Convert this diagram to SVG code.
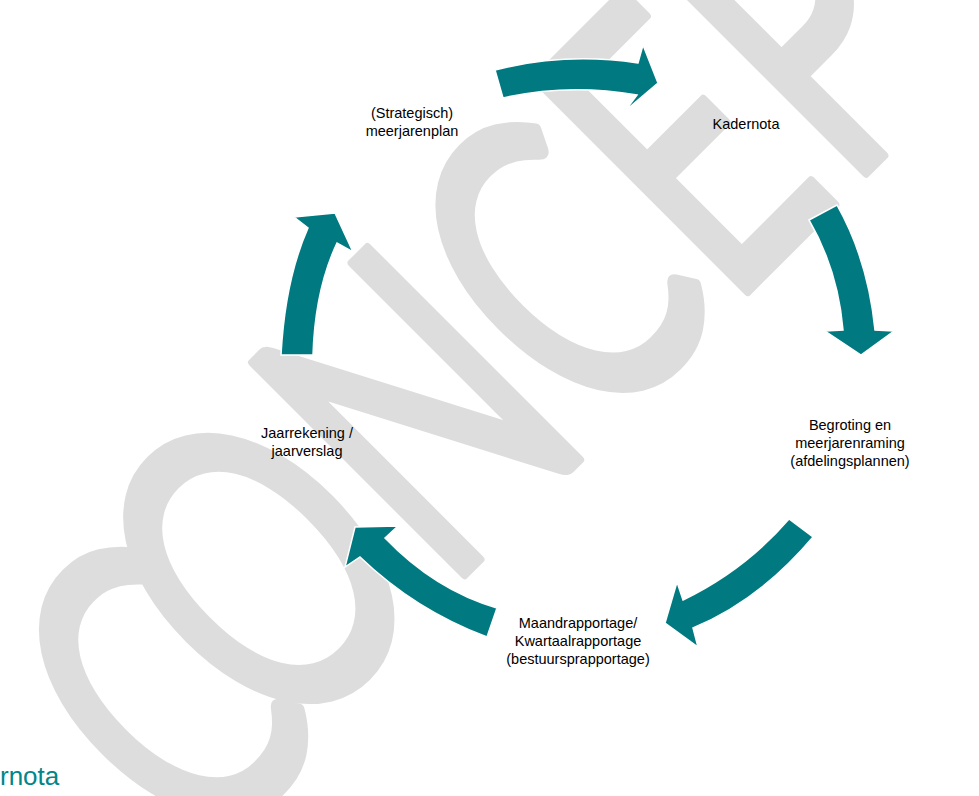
<svg xmlns="http://www.w3.org/2000/svg" width="979" height="796" viewBox="0 0 979 796">
<style>
.wm{font-family:Lato,"Open Sans",sans-serif;font-size:418px;fill:#DDDDDD;stroke:#DDDDDD;stroke-width:9;stroke-linejoin:round;text-anchor:middle}
.arrow{fill:#007A80;stroke:#FFFFFF;stroke-width:1.5;stroke-linejoin:miter}
.lbl{font-family:"Liberation Sans",Arial,sans-serif;font-size:14.5px;fill:#000000;text-anchor:middle}
.hdr{font-family:"Liberation Sans",Arial,sans-serif;font-size:26px;fill:#00868B}
</style>
<rect width="979" height="796" fill="#FFFFFF"/>
<g id="watermark">
<text class="wm" transform="translate(157,882) rotate(-45) scale(0.68,1)"><tspan x="200" y="20">C</tspan><tspan x="432" y="0">O</tspan><tspan x="759" y="0">N</tspan><tspan x="1054" y="0">C</tspan><tspan x="1309" y="0">E</tspan><tspan x="1560" y="0">P</tspan><tspan x="1812" y="0">T</tspan></text>
</g>
<g id="connectors">
<path class="arrow" d="M495,70 Q565,52 638,63 L643,45 L658,83 L625,111 L637,95 Q568,83 503,98 Z"/>
<path class="arrow" d="M809,220 L837,205 Q868,260 875,330 L894,331 L861,355 L825,331 L843,330 Q838,270 809,220 Z"/>
<path class="arrow" d="M789,519 L813,537 Q760,600 693,628 L698,647 L665,623 L677,582 L683,600 Q745,570 789,519 Z"/>
<path class="arrow" d="M497,608 L487,637 Q415,610 360,557 L345,567 L355,527 L398,526 L385,538 Q435,590 497,608 Z"/>
<path class="arrow" d="M281,355 Q285,280 308,228 L294,217 L335,213 L353,252 L337,243 Q315,290 313,355 Z"/>
</g>
<g id="node-meerjarenplan">
<text class="lbl" x="412" y="118">(Strategisch)</text>
<text class="lbl" x="412" y="136">meerjarenplan</text>
</g>
<g id="node-kadernota">
<text class="lbl" x="746" y="129">Kadernota</text>
</g>
<g id="node-begroting">
<text class="lbl" x="850" y="430">Begroting en</text>
<text class="lbl" x="850" y="448">meerjarenraming</text>
<text class="lbl" x="850" y="466">(afdelingsplannen)</text>
</g>
<g id="node-rapportage">
<text class="lbl" x="578" y="628">Maandrapportage/</text>
<text class="lbl" x="578" y="646">Kwartaalrapportage</text>
<text class="lbl" x="578" y="664">(bestuursprapportage)</text>
</g>
<g id="node-jaarrekening">
<text class="lbl" x="307" y="438">Jaarrekening /</text>
<text class="lbl" x="307" y="456">jaarverslag</text>
</g>
<text class="hdr" x="0" y="785">rnota</text>
</svg>
